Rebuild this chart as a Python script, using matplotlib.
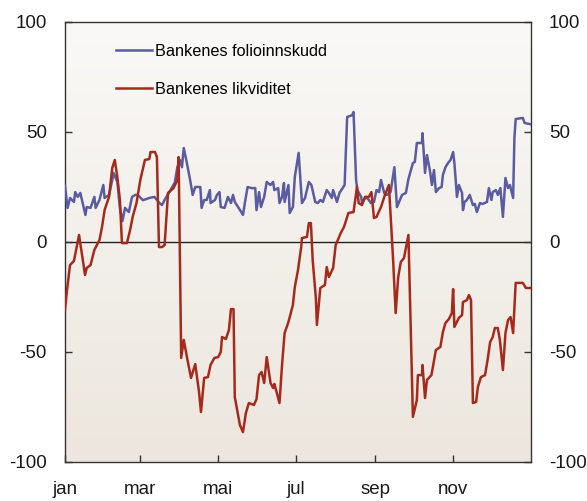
import numpy as np
import pandas as pd
import matplotlib
matplotlib.use("Agg")
import matplotlib.pyplot as plt
import matplotlib.dates as mdates

# days since 1 January
folio_days = [0, 2, 4, 7, 8, 10, 12, 16, 17, 20, 23, 24, 27, 30, 31, 34.5, 37, 38, 41, 43,
              45, 47, 50, 52.5, 55, 57, 61, 66, 70, 74, 76, 78, 82, 86, 88, 90, 91.6, 93,
              95, 98, 100, 102, 106, 107, 109, 111, 113.5, 114, 117.5, 119, 121, 122, 125,
              127.6, 130, 131.6, 133, 136, 138, 139.4, 141, 143, 146, 149, 150, 152, 153.5,
              156, 158, 161, 163, 164, 167, 168, 170, 171.5, 172, 175, 176, 178.5, 180, 183,
              185.6, 188, 191, 193, 196, 198, 200, 202, 205, 206.7, 209, 210, 213, 215, 219,
              221, 225, 226, 228, 229, 232, 232.6, 235.7, 238, 239.6, 242, 244, 246, 247.5,
              250, 252, 255, 258, 260, 264, 267, 269, 272.5, 274, 275.6, 279.6, 280, 282,
              283.5, 286, 287.4, 289, 290.5, 293, 295, 296, 298, 300, 302, 304, 305, 307,
              308.5, 311, 311.7, 313, 314.8, 317, 319.5, 321, 322.6, 325, 327, 330.5, 332,
              334, 335, 337.5, 339, 341, 343, 345, 347, 348.5, 351, 352, 353, 358.6, 360, 364]
folio_vals = [25.5, 15.5, 20, 18.2, 22.7, 20.5, 22.3, 12.3, 15.9, 15.5, 20.5, 15.5, 19.1,
              25.9, 20, 21.4, 28.2, 31.4, 27.3, 15.5, 9.5, 15.5, 13.6, 20.5, 21.4, 21.4, 19,
              20, 20.5, 17.7, 16.8, 19.1, 23, 27, 34, 37.3, 34, 42.7, 37.3, 28.2, 21.4, 25,
              25, 15.5, 19.1, 19.1, 23.6, 17.7, 19.1, 21.4, 22.7, 15.9, 15.5, 20.5, 17.7,
              21.4, 18.2, 15.5, 13.6, 12.3, 18.2, 25, 24.5, 24.5, 14.5, 22.7, 15.9, 20.5,
              27.3, 25.9, 27.3, 23.6, 24.5, 17.7, 20.5, 26.8, 18.2, 25.9, 13.2, 15.9, 29.5,
              40.5, 17.7, 20, 27.3, 25.9, 18.2, 17.7, 19.1, 18.2, 23.6, 22.3, 20, 23.6, 18.2,
              22.3, 25.9, 56.8, 57.7, 59.1, 28.2, 23.6, 20.5, 17.7, 20.5, 19.1, 17.7, 18.2,
              23.6, 22.7, 28.2, 22.3, 21.4, 22.7, 34, 15.9, 21.4, 22.3, 28.6, 35.9, 36.4, 45,
              45, 49.5, 31.4, 39.5, 31.8, 25.9, 32.7, 22.7, 24.5, 25, 30.5, 34, 35.9, 37.3,
              40.9, 35.9, 20.5, 25.9, 22.3, 14.5, 18.2, 19.1, 21.4, 16.8, 17.3, 13.6, 17.7,
              17.3, 18.2, 24.5, 19.1, 22.7, 23.6, 21.4, 24.5, 11.4, 29.1, 24.5, 25.9, 20,
              47.3, 55.9, 56.4, 54.1, 53.6]

likv_days = [0, 1.6, 3.9, 7, 11, 15.7, 17, 20, 23, 27, 29, 31, 34.5, 37, 39, 41, 43, 44.6,
             48.5, 51, 53, 56, 59, 62.6, 66, 67, 70.5, 72, 73.6, 76, 78, 80.7, 85, 88, 89,
             91, 93, 95.5, 98.7, 102, 105, 106.5, 109, 112, 114, 117, 120, 122, 123, 126,
             128.4, 130, 132, 133, 137, 139.4, 141.7, 144, 148, 150, 152, 154, 156, 158, 161,
             163, 164, 168, 170, 172, 175, 178.5, 180, 182.5, 185, 185.6, 189.5, 191, 192.6,
             194, 196.5, 197.3, 200, 203.6, 205, 206.7, 210, 212, 216, 218.5, 221, 222, 226,
             228.7, 230, 232.6, 235, 238, 240, 242, 244, 247.5, 250.6, 253.7, 257, 259, 261,
             263, 265.5, 269, 272.5, 275.6, 276.4, 279.6, 280, 282, 283.5, 287, 288, 290.5,
             294, 296, 298, 300.7, 303, 304, 305, 308.5, 311, 311.7, 314.8, 316.4, 318, 319.5,
             322, 323.4, 325.8, 329, 331, 333, 335, 336.7, 339, 340.6, 343, 345, 347, 349,
             351, 351.6, 353, 358.6, 361, 365]
likv_vals = [-30.9, -21.8, -10.5, -8.6, 3.2, -15, -11.8, -10.5, -3.6, 0.9, 6.8, 14.5, 20.5,
             33.6, 37.3, 29.5, 19.1, -0.5, -0.5, 5.5, 11.4, 17.7, 28.2, 37.3, 37.7, 40.9,
             40.9, 38.6, -2.3, -2.3, -1.4, 22.3, 24.5, 28.2, 38.6, -52.7, -44.5, -52.3,
             -61.8, -55.5, -68.2, -77.3, -61.8, -61.4, -55.9, -52.7, -52.3, -50, -43.2,
             -44.1, -40, -30.5, -30.5, -70.5, -83.2, -86.4, -77.7, -73.2, -74.1, -71.4,
             -60.5, -59.1, -64.1, -52.3, -64.1, -66.4, -64.5, -73.2, -55.9, -41.4, -36.4,
             -28.6, -20.5, -12.7, -2.3, 1.8, 2.3, 8.6, 8.6, -8.2, -25.5, -37.7, -20.9, -19.5,
             -11.4, -15.9, -11.8, -1.4, 4.1, 6.8, 11.4, 13.2, 13.6, 25, 17.7, 16.8, 20.5,
             20.5, 22.7, 10.9, 11.4, 15.9, 21.4, 25.9, -8.2, -32.3, -15.9, -9.1, -7.3, 3.2,
             -79.5, -71.8, -60.5, -60.5, -55.9, -70.9, -62.7, -60.5, -57.3, -49.1, -47.7,
             -40.9, -36.8, -35, -32.3, -21.4, -38.6, -34.5, -33.2, -27.3, -26.4, -24.1,
             -26.4, -73.2, -72.7, -65.9, -61.4, -60.5, -53.6, -45.5, -43.2, -39.1, -39.1,
             -44.5, -58.2, -41.4, -35.5, -34.1, -41.4, -34.5, -18.6, -18.6, -20.9, -20.9]

labels = ["Bankenes folioinnskudd", "Bankenes likviditet"]
colors = ["#5b5ba0", "#a52a1c"]
tick_months = ["2009-01-01", "2009-03-01", "2009-05-01", "2009-07-01", "2009-09-01", "2009-11-01"]
tick_labels = ["jan", "mar", "mai", "jul", "sep", "nov"]

start = pd.Timestamp("2009-01-01")
folio_dates = start + pd.to_timedelta(folio_days, unit="D")
likv_dates = start + pd.to_timedelta(likv_days, unit="D")

plt.rcParams["font.family"] = ["Liberation Sans", "DejaVu Sans"]
plt.rcParams["axes.unicode_minus"] = False

fig = plt.figure(figsize=(5.87, 5.01), dpi=100)
ax = fig.add_axes([65 / 587, 1 - 462 / 501, 466 / 587, 440 / 501])

xmin = mdates.date2num(start)
xmax = mdates.date2num(pd.Timestamp("2010-01-01"))

# soft background gradient inside the plot area
grad = np.linspace(0, 1, 256).reshape(-1, 1)
top = np.array([250, 249, 247]) / 255
bottom = np.array([236, 230, 222]) / 255
img = top + (bottom - top) * grad[..., None]
ax.imshow(img, extent=[xmin, xmax, -100, 100], aspect="auto", zorder=0, origin="upper")

ax.axhline(0, color="#222222", linewidth=1.0, zorder=1)
ax.plot(folio_dates, folio_vals, color=colors[0], linewidth=1.8, label=labels[0], zorder=3)
ax.plot(likv_dates, likv_vals, color=colors[1], linewidth=1.8, label=labels[1], zorder=3)

ax.set_xlim(xmin, xmax)
ax.set_ylim(-100, 100)
ax.set_yticks([-100, -50, 0, 50, 100])
ax.set_xticks(mdates.date2num(pd.to_datetime(tick_months)))
ax.set_xticklabels(tick_labels)

for spine in ax.spines.values():
    spine.set_color("#333333")
    spine.set_linewidth(1.0)
ax.tick_params(axis="both", direction="in", length=5, width=1, color="#333333",
               labelsize=13.5, labelcolor="#1a1a1a")
ax.tick_params(axis="y", right=True, labelright=True, pad=13)
ax.tick_params(axis="x", pad=14)

ax.legend(loc="upper left", bbox_to_anchor=(0.11, 0.95), frameon=False, fontsize=11.7,
          handlelength=2.2, handletextpad=0.2, labelspacing=1.4, borderpad=0,
          borderaxespad=0)

fig.savefig("out.png", dpi=100)
